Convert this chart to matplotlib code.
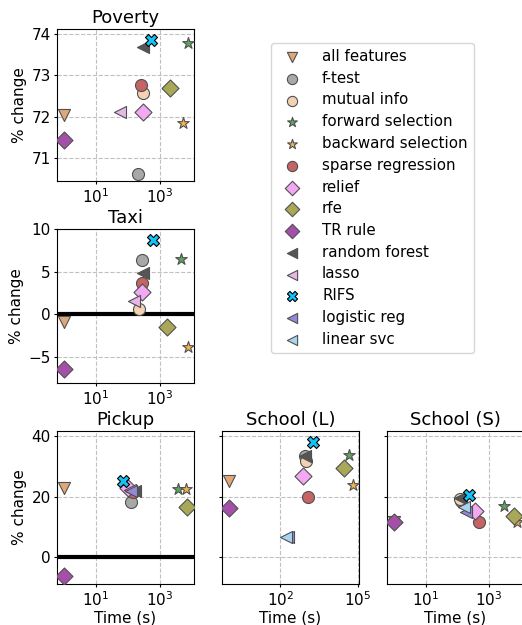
import matplotlib
matplotlib.use("Agg")
import matplotlib.pyplot as plt
from matplotlib.ticker import NullLocator, FixedLocator
import numpy as np

# methods, markers and colours
methods = ["all features", "f-test", "mutual info", "forward selection",
           "backward selection", "sparse regression", "relief", "rfe",
           "TR rule", "random forest", "lasso", "RIFS", "logistic reg",
           "linear svc"]
markers = ["v", "o", "o", "*", "*", "o", "D", "D", "D", "<", "<", "X", "<", "<"]
colors = ["#e0a878", "#a8a8a8", "#f2d2b2", "#5ea65e", "#f2b450", "#c46464",
          "#f2a8f2", "#a8a858", "#a450a8", "#555555", "#e8b6e8", "#12c3f5",
          "#9488d8", "#a8d4f2"]

# (time in s, % change) per dataset, None = not run
poverty = {
    "all features": (1, 72.05), "f-test": (210, 70.61), "mutual info": (290, 72.57),
    "forward selection": (7600, 73.78), "backward selection": (5100, 71.84),
    "sparse regression": (250, 72.77), "relief": (290, 72.12), "rfe": (2050, 72.69),
    "TR rule": (1, 71.44), "random forest": (300, 73.69), "lasso": (55, 72.12),
    "RIFS": (510, 73.86),
}
taxi = {
    "all features": (1, -0.9), "f-test": (270, 6.3), "mutual info": (225, 0.6),
    "forward selection": (4500, 6.5), "backward selection": (7400, -3.85),
    "sparse regression": (280, 3.65), "relief": (280, 2.55), "rfe": (1600, -1.55),
    "TR rule": (1, -6.5), "random forest": (300, 4.8), "lasso": (150, 1.5),
    "RIFS": (590, 8.65),
}
pickup = {
    "all features": (1, 23.0), "f-test": (120, 18.2), "mutual info": (130, 21.8),
    "forward selection": (3700, 22.6), "backward selection": (6300, 22.6),
    "sparse regression": (140, 21.5), "relief": (100, 22.8), "rfe": (7100, 16.8),
    "TR rule": (1, -6.2), "random forest": (165, 21.8), "lasso": (115, 22.2),
    "RIFS": (68, 25.4), "logistic reg": (125, 21.8),
}
school_l = {
    "all features": (1.07, 25.2), "f-test": (900, 33.4), "mutual info": (1000, 31.9),
    "forward selection": (47000, 33.8), "backward selection": (63000, 24.1),
    "sparse regression": (1170, 20.0), "relief": (760, 26.9), "rfe": (30000, 29.4),
    "TR rule": (1.07, 16.2), "random forest": (870, 33.6), "RIFS": (1850, 38.0),
    "logistic reg": (200, 6.6), "linear svc": (170, 6.6),
}
school_s = {
    "all features": (1, 11.8), "f-test": (130, 18.6), "mutual info": (120, 19.3),
    "forward selection": (3000, 17.0), "backward selection": (7500, 11.6),
    "sparse regression": (480, 11.6), "relief": (350, 15.2), "rfe": (6200, 13.6),
    "TR rule": (1, 11.8), "random forest": (125, 19.8), "RIFS": (235, 20.6),
    "logistic reg": (190, 15.1), "linear svc": (160, 16.8),
}

W, H = 522, 625
fig = plt.figure(figsize=(W / 100, H / 100), dpi=100)

def px(left, top, right, bottom):
    return [left / W, 1 - bottom / H, (right - left) / W, (bottom - top) / H]

ax_pov = fig.add_axes(px(57, 29, 194, 181))
ax_taxi = fig.add_axes(px(57, 229, 194, 383))
ax_pick = fig.add_axes(px(57, 431, 194, 584))
ax_sl = fig.add_axes(px(222, 431, 359, 584), sharey=ax_pick)
ax_ss = fig.add_axes(px(387, 431, 524, 584), sharey=ax_pick)

def draw(ax, data, title, xlim, ylim, xticks, zero=False):
    for m, mk, c in zip(methods, markers, colors):
        if m not in data:
            continue
        x, y = data[m]
        ec = "black" if m == "RIFS" else "#505050"
        ax.scatter([x], [y], marker=mk, s=75, c=c, edgecolors=ec,
                   linewidths=0.8, label=m, zorder=3)
    if zero:
        ax.axhline(0, color="black", lw=3, zorder=2)
    ax.set_xscale("log")
    ax.set_xlim(*xlim)
    ax.set_ylim(*ylim)
    ax.xaxis.set_major_locator(FixedLocator(xticks))
    ax.xaxis.set_minor_locator(NullLocator())
    ax.grid(True, linestyle="--", color="#c0c0c0", lw=0.8)
    ax.set_axisbelow(True)
    ax.set_title(title, fontsize=13, pad=4)
    ax.tick_params(labelsize=11, length=2.5, pad=2)

draw(ax_pov, poverty, "Poverty", (0.6, 11500), (70.44, 74.12), [10, 1000])
ax_pov.set_yticks([71, 72, 73, 74])
ax_pov.set_ylabel("% change", fontsize=11, labelpad=3)

draw(ax_taxi, taxi, "Taxi", (0.6, 11500), (-8.1, 10), [10, 1000], zero=True)
ax_taxi.set_yticks([-5, 0, 5, 10])
ax_taxi.set_ylabel("% change", fontsize=11, labelpad=3)

draw(ax_pick, pickup, "Pickup", (0.6, 11500), (-8.8, 41.8), [10, 1000], zero=True)
ax_pick.set_yticks([0, 20, 40])
ax_pick.set_ylabel("% change", fontsize=11, labelpad=3)
ax_pick.set_xlabel("Time (s)", fontsize=11, labelpad=1)

draw(ax_sl, school_l, "School (L)", (0.57, 1.1e5), (-8.8, 41.8), [100, 1e5])
ax_sl.set_xlabel("Time (s)", fontsize=11, labelpad=1)
ax_sl.tick_params(labelleft=False)

draw(ax_ss, school_s, "School (S)", (0.6, 12600), (-8.8, 41.8), [10, 1000])
ax_ss.set_xlabel("Time (s)", fontsize=11, labelpad=1)
ax_ss.tick_params(labelleft=False)

# legend with all methods
handles = [plt.scatter([], [], marker=mk, s=75, c=c,
                       edgecolors=("black" if m == "RIFS" else "#505050"),
                       linewidths=0.8, label=m)
           for m, mk, c in zip(methods, markers, colors)]
fig.legend(handles=handles, loc="upper left", bbox_to_anchor=(271 / W, 1 - 43 / H),
           fontsize=10.8, frameon=True, borderaxespad=0, handletextpad=1.0,
           labelspacing=0.45, markerscale=0.85)

fig.savefig("out.png", dpi=100)
